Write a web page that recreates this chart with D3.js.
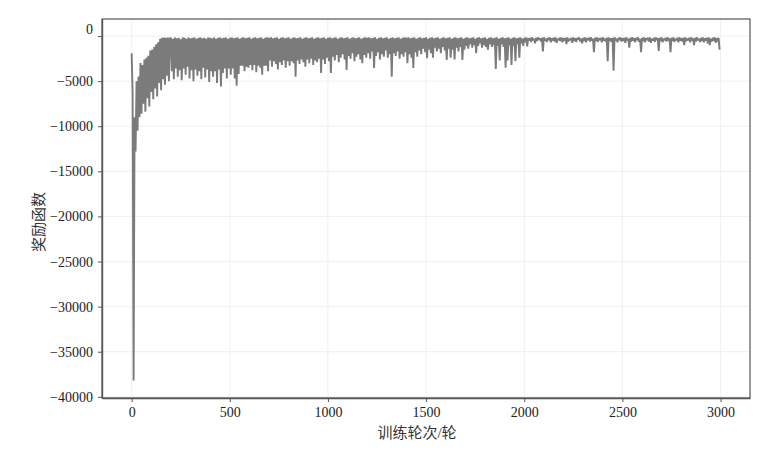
<!DOCTYPE html>
<html>
<head>
<meta charset="utf-8">
<script src="https://cdn.jsdelivr.net/npm/d3@7"></script>
<style>
  html, body { margin: 0; padding: 0; background: #fff; }
  svg { display: block; }
</style>
</head>
<body>
<svg id="chart" width="772" height="455"></svg>
<script>
const episodeStep = 5;
const rewardsEarly = [ // episodes 0-195
  -1900,-6300,-38200,-9000,-12800,-5000,-10500,-4500,-9000,-3000,
  -8600,-3200,-7500,-2600,-8400,-2400,-6900,-2200,-7800,-1600,
  -6200,-1500,-7000,-1200,-5800,-900,-6700,-700,-5200,-300,
  -6000,-200,-4800,-150,-5400,-200,-4400,-150,-5000,-250
];
const rewardsRise = [ // episodes 200-495
  -200,-3900,-300,-4800,-150,-3600,-250,-4500,-200,-3800,
  -350,-4900,-150,-3600,-200,-4300,-300,-3400,-150,-4700,
  -250,-3800,-200,-5000,-150,-3700,-300,-4400,-200,-3900,
  -150,-4800,-250,-3500,-200,-4600,-300,-3700,-150,-5100,
  -200,-3900,-250,-4500,-150,-3900,-300,-5200,-200,-3700,
  -150,-5600,-250,-4100,-200,-3600,-150,-4700,-300,-3600
];
const rewardsMid1 = [ // episodes 500-995
  -200,-4300,-150,-3600,-250,-4700,-200,-5500,-150,-4200,
  -300,-3300,-200,-3300,-150,-3900,-250,-3400,-200,-3500,
  -150,-3200,-300,-3800,-200,-3200,-150,-4000,-250,-3300,
  -200,-3500,-150,-4300,-300,-3300,-200,-3300,-150,-3900,
  -200,-2700,-150,-3400,-250,-2800,-200,-3100,-150,-3700,
  -300,-2900,-200,-3200,-150,-2700,-250,-3500,-200,-2800,
  -150,-3300,-300,-2800,-200,-3000,-150,-4500,-250,-2700,
  -200,-3100,-150,-2600,-300,-2900,-200,-3400,-150,-2600,
  -250,-3000,-200,-2500,-150,-3200,-300,-2700,-200,-2900,
  -150,-2500,-250,-4100,-200,-2600,-150,-3100,-300,-2400
];
const rewardsMid2 = [ // episodes 1000-1495
  -200,-2800,-150,-4100,-250,-2300,-200,-2700,-150,-2100,
  -300,-2900,-200,-2400,-150,-2000,-250,-2600,-200,-3750,
  -150,-2200,-300,-2500,-200,-1900,-150,-2800,-250,-2300,
  -200,-2000,-150,-2600,-300,-3000,-200,-2100,-150,-2400,
  -200,-1900,-150,-2500,-250,-1700,-200,-3550,-150,-2200,
  -300,-1800,-200,-2600,-150,-2000,-250,-2300,-200,-1600,
  -150,-2400,-300,-2000,-200,-4500,-150,-1900,-250,-2200,
  -200,-1700,-150,-2500,-300,-2000,-200,-2300,-150,-1800,
  -200,-3000,-150,-2000,-250,-2400,-200,-3550,-150,-1800,
  -300,-2300,-200,-1600,-150,-2000,-250,-1400,-200,-1800
];
const rewardsLate1 = [ // episodes 1500-1995
  -150,-2450,-300,-1500,-200,-1900,-150,-2400,-250,-1300,
  -200,-1700,-150,-1400,-300,-1900,-200,-1200,-150,-1600,
  -250,-2650,-200,-1400,-150,-2400,-300,-1500,-200,-2600,
  -150,-1300,-250,-1700,-200,-1200,-150,-2650,-300,-1500,
  -200,-1100,-150,-1400,-250,-900,-200,-1300,-150,-1000,
  -300,-1900,-200,-1100,-150,-800,-250,-1300,-200,-1000,
  -150,-1200,-300,-1500,-200,-900,-150,-1200,-250,-1000,
  -200,-3650,-150,-1100,-300,-2700,-200,-900,-150,-1200,
  -250,-3500,-200,-2700,-150,-1000,-300,-3200,-200,-1100,
  -150,-2800,-250,-900,-200,-2400,-150,-800,-300,-1100
];
const rewardsLate2 = [ // episodes 2000-2495
  -200,-700,-150,-1150,-250,-500,-200,-650,-150,-450,
  -300,-800,-200,-550,-150,-400,-250,-600,-200,-1700,
  -150,-500,-300,-650,-200,-450,-150,-700,-250,-500,
  -200,-600,-150,-750,-300,-450,-200,-550,-150,-700,
  -250,-500,-200,-900,-150,-600,-300,-450,-200,-750,
  -150,-550,-250,-650,-200,-400,-150,-600,-300,-800,
  -200,-550,-150,-700,-250,-450,-200,-600,-150,-500,
  -300,-1800,-200,-550,-150,-650,-250,-450,-200,-700,
  -150,-500,-300,-600,-200,-2800,-150,-550,-250,-650,
  -200,-3850,-150,-500,-300,-700,-200,-450,-150,-600
];
const rewardsLate3 = [ // episodes 2500-2995
  -250,-550,-200,-750,-150,-450,-300,-1300,-200,-600,
  -150,-500,-250,-700,-200,-450,-150,-650,-300,-1800,
  -200,-550,-150,-700,-250,-450,-200,-600,-150,-750,
  -300,-500,-200,-650,-150,-450,-250,-1650,-200,-550,
  -150,-700,-300,-450,-200,-600,-150,-500,-250,-1800,
  -200,-550,-150,-650,-300,-450,-200,-700,-150,-500,
  -250,-600,-200,-1000,-150,-550,-300,-450,-200,-700,
  -150,-500,-250,-1000,-200,-600,-150,-450,-300,-650,
  -200,-550,-150,-700,-250,-500,-200,-800,-150,-1000,
  -300,-600,-200,-500,-150,-750,-250,-600,-200,-1500
];
const rewards = [].concat(rewardsEarly, rewardsRise, rewardsMid1, rewardsMid2,
                          rewardsLate1, rewardsLate2, rewardsLate3);

const xTicks = [0, 500, 1000, 1500, 2000, 2500, 3000];
const yTicks = [0, -5000, -10000, -15000, -20000, -25000, -30000, -35000, -40000];
const xLabel = "训练轮次/轮";
const yLabel = "奖励函数";

const svg = d3.select("#chart");
const L = 102, R = 750, T = 19, B = 398;

const x = d3.scaleLinear().domain([-151, 3150]).range([L, R]);
const y = d3.scaleLinear().domain([-40130, 1890]).range([B, T]);

// grid
const grid = svg.append("g");
grid.selectAll(".gx").data(xTicks).enter().append("line")
  .attr("x1", d => x(d)).attr("x2", d => x(d)).attr("y1", T).attr("y2", B)
  .attr("stroke", "#ececec").attr("stroke-width", 0.8);
grid.selectAll(".gy").data(yTicks).enter().append("line")
  .attr("y1", d => y(d)).attr("y2", d => y(d)).attr("x1", L).attr("x2", R)
  .attr("stroke", "#ececec").attr("stroke-width", 0.8);

// line
const line = d3.line()
  .x((d, i) => x(i * episodeStep))
  .y(d => y(d));
svg.append("path")
  .datum(rewards)
  .attr("d", line)
  .attr("fill", "none")
  .attr("stroke", "#7b7b7b")
  .attr("stroke-width", 1.9)
  .attr("stroke-linejoin", "bevel");

// frame
svg.append("rect").attr("x", L).attr("y", T).attr("width", R - L).attr("height", B - T)
  .attr("fill", "none").attr("stroke", "#333").attr("stroke-width", 1);

const fmt = d => (d < 0 ? "\u2212" + Math.abs(d) : String(d));
const serif = '"Liberation Serif", "Times New Roman", "DejaVu Serif", serif';

const xAxis = svg.append("g").attr("transform", `translate(0,${B})`)
  .call(d3.axisBottom(x).tickValues(xTicks).tickFormat(fmt).tickSize(4).tickPadding(5).tickSizeOuter(0));
const yAxis = svg.append("g").attr("transform", `translate(${L},0)`)
  .call(d3.axisLeft(y).tickValues(yTicks).tickFormat(fmt).tickSize(4).tickPadding(5).tickSizeOuter(0));
[xAxis, yAxis].forEach(a => {
  a.attr("font-family", serif).attr("font-size", 14);
  a.select(".domain").attr("stroke", "#555").attr("stroke-width", 1.4);
  a.selectAll(".tick line").attr("stroke", "#555");
  a.selectAll(".tick text").attr("fill", "#222").style("font-family", serif).style("font-size", "14px");
});
yAxis.selectAll(".tick").filter(d => d === 0).select("text").attr("dy", "-0.2em");

const lblFont = '"Liberation Serif", "Noto Sans CJK SC", serif';
svg.append("text")
  .attr("x", 417).attr("y", 433).attr("text-anchor", "middle").attr("dominant-baseline", "central")
  .style("font-family", lblFont).style("font-size", "15px").attr("fill", "#333")
  .text(xLabel);
svg.append("text")
  .attr("transform", "translate(39,222) rotate(-90)")
  .attr("text-anchor", "middle").attr("dominant-baseline", "central")
  .style("font-family", lblFont).style("font-size", "15px").attr("fill", "#333")
  .text(yLabel);
</script>
</body>
</html>
